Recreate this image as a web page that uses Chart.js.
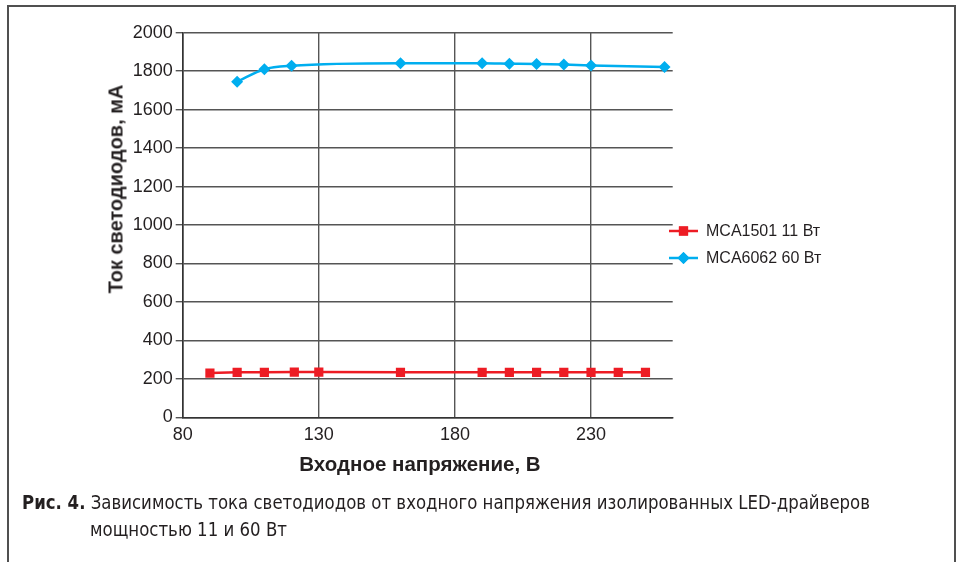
<!DOCTYPE html>
<html lang="ru">
<head>
<meta charset="utf-8">
<script src="https://cdn.jsdelivr.net/npm/chart.js@4.4.1/dist/chart.umd.min.js"></script>
<style>
  html, body { margin: 0; padding: 0; background: #fff; }
  body { width: 960px; height: 562px; position: relative; overflow: hidden; }
  #frame { position: absolute; left: 7px; top: 5px; width: 945px; height: 620px;
           border: 2px solid #505050; border-bottom: none; }
  #chartBox { position: absolute; left: 0; top: 0; width: 960px; height: 562px; }
  .axt { position: absolute; font-family: "Liberation Sans", Arial, sans-serif; font-weight: bold;
         color: #231f20; white-space: nowrap; }
  #ytitle { left: 116px; top: 189px; font-size: 20px; transform: translate(-50%, -50%) rotate(-90deg); }
  #xtitle { left: 420px; top: 464px; font-size: 20.5px; transform: translate(-50%, -50%); }
  .cap { position: absolute; font-family: "Liberation Sans Narrow", "DejaVu Sans Condensed", "Roboto", sans-serif;
         font-size: 19px; color: #231f20; white-space: nowrap; transform-origin: 0 50%; }
  #cap1 { left: 22px; top: 491px; }
  #cap2 { left: 90px; top: 518px; }
</style>
</head>
<body>
<div id="frame"></div>
<div id="chartBox"><canvas id="c" width="960" height="562"></canvas></div>
<div id="ytitle" class="axt">Ток светодиодов, мА</div>
<div id="xtitle" class="axt">Входное напряжение, В</div>
<div id="cap1" class="cap"><b>Рис. 4.</b> Зависимость тока светодиодов от входного напряжения изолированных LED-драйверов</div>
<div id="cap2" class="cap">мощностью 11 и 60 Вт</div>
<script>
// ---- data ----
const seriesNames = ["MCA1501 11 Вт", "MCA6062 60 Вт"];
const voltage11 = [90, 100, 110, 121, 130, 160, 190, 200, 210, 220, 230, 240, 250];
const current11 = [230, 234, 234, 235, 235, 234, 234, 234, 234, 234, 234, 234, 234];
const voltage60 = [100, 110, 120, 160, 190, 200, 210, 220, 230, 257];
const current60 = [1745, 1810, 1828, 1841, 1841, 1839, 1837, 1834, 1830, 1822];
const xTickValues = [80, 130, 180, 230];
const yTickValues = [0, 200, 400, 600, 800, 1000, 1200, 1400, 1600, 1800, 2000];

const RED = "#ed1c24", BLUE = "#00aeef", GRID = "#555555", TXT = "#231f20";

const toPts = (xs, ys) => xs.map((x, i) => ({ x, y: ys[i] }));

// legend drawn next to the plot (line + marker + label)
const sideLegend = {
  id: "sideLegend",
  afterDraw(chart) {
    const ctx = chart.ctx;
    const ys = [231, 258];
    chart.data.datasets.forEach((ds, i) => {
      const y = ys[i];
      ctx.save();
      ctx.strokeStyle = ds.borderColor;
      ctx.lineWidth = ds.borderWidth;
      ctx.beginPath(); ctx.moveTo(669, y); ctx.lineTo(698, y); ctx.stroke();
      ctx.fillStyle = ds.pointBackgroundColor;
      Chart.helpers.drawPoint(ctx, { pointStyle: ds.pointStyle, radius: ds.pointRadius, borderWidth: 0 }, 683.5, y);
      ctx.fill();
      ctx.fillStyle = TXT;
      ctx.font = "16px 'Liberation Sans', Arial, sans-serif";
      ctx.textBaseline = "middle";
      ctx.fillText(ds.label, 706, y + 1);
      ctx.restore();
    });
  }
};

const plain = v => String(v);

new Chart(document.getElementById("c"), {
  type: "scatter",
  data: {
    datasets: [
      { label: seriesNames[0], data: toPts(voltage11, current11), showLine: true,
        borderColor: RED, backgroundColor: RED, pointBackgroundColor: RED, borderWidth: 2.5,
        pointStyle: "rect", pointRadius: 6.5, pointBorderWidth: 0, tension: 0 },
      { label: seriesNames[1], data: toPts(voltage60, current60), showLine: true,
        borderColor: BLUE, backgroundColor: BLUE, pointBackgroundColor: BLUE, borderWidth: 2.5,
        pointStyle: "rectRot", pointRadius: 6, pointBorderWidth: 0, cubicInterpolationMode: "monotone" }
    ]
  },
  options: {
    responsive: false,
    animation: false,
    devicePixelRatio: 1,
    layout: { padding: { left: 0, top: 32.7, right: 287.3, bottom: 104.7 } },
    plugins: { legend: { display: false }, tooltip: { enabled: false } },
    scales: {
      x: {
        type: "linear", min: 80, max: 260,
        afterBuildTicks: s => { s.ticks = xTickValues.map(v => ({ value: v })); },
        afterFit: s => { s.height = 40; },
        grid: { color: GRID, lineWidth: 1.4, drawTicks: false },
        border: { color: "#333", width: 1.6 },
        ticks: { color: TXT, font: { family: "'Liberation Sans', Arial, sans-serif", size: 18 }, padding: 7, maxRotation: 0, callback: plain }
      },
      y: {
        type: "linear", min: 0, max: 2000,
        afterBuildTicks: s => { s.ticks = yTickValues.map(v => ({ value: v })); },
        afterFit: s => { s.width = 182.7; },
        grid: { color: GRID, lineWidth: 1.4, drawTicks: true, tickLength: 7 },
        border: { color: "#333", width: 1.6 },
        ticks: { color: TXT, font: { family: "'Liberation Sans', Arial, sans-serif", size: 18 }, padding: 3, callback: plain }
      }
    }
  },
  plugins: [sideLegend]
});

// fit caption lines to the reference widths
function fitWidth(id, w) {
  const el = document.getElementById(id);
  const r = el.getBoundingClientRect().width;
  el.style.transform = "scaleX(" + (w / r) + ")";
}
fitWidth("cap1", 848);
fitWidth("cap2", 197);
</script>
</body>
</html>
